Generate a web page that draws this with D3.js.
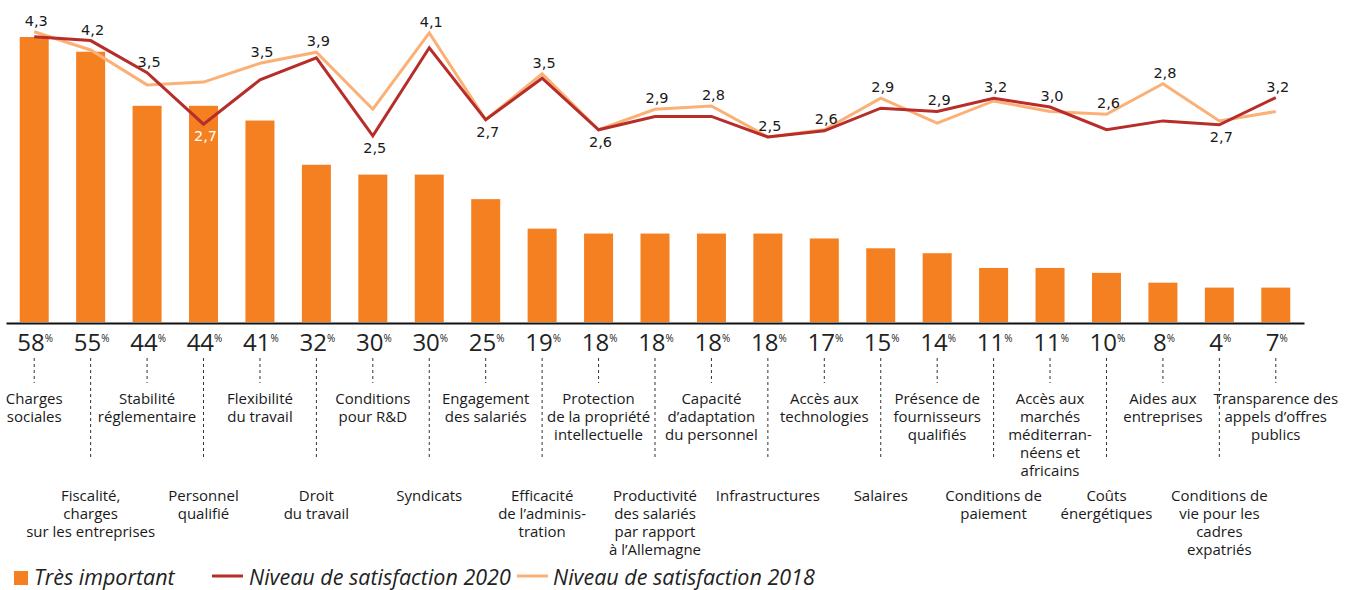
<!DOCTYPE html>
<html>
<head>
<meta charset="utf-8">
<script src="https://cdn.jsdelivr.net/npm/d3@7"></script>
<style>
body{margin:0;background:#fff;}
svg{display:block;}
</style>
</head>
<body>
<div id="chart-area"></div>
<script>
// ---------- DATA ----------
let categories=[
	"Charges|sociales","Fiscalité,|charges|sur les entreprises","Stabilité|réglementaire",
	"Personnel|qualifié","Flexibilité|du travail","Droit|du travail","Conditions|pour R&D",
	"Syndicats","Engagement|des salariés","Efficacité|de l’adminis-|tration",
	"Protection|de la propriété|intellectuelle","Productivité|des salariés|par rapport|à l’Allemagne",
	"Capacité|d’adaptation|du personnel","Infrastructures","Accès aux|technologies","Salaires",
	"Présence de|fournisseurs|qualifiés","Conditions de|paiement",
	"Accès aux|marchés|méditerran-|néens et|africains","Coûts|énergétiques","Aides aux|entreprises",
	"Conditions de|vie pour les|cadres|expatriés","Transparence des|appels d’offres|publics"
];
let important=[58,55,44,44,41,32,30,30,25,19,18,18,18,18,17,15,14,11,11,10,8,7,7];
let importantLabels=["58","55","44","44","41","32","30","30","25","19","18","18","18","18","17","15","14","11","11","10","8","4","7"];
let sat2020=[4.30,4.23,3.65,2.72,3.52,3.92,2.51,4.10,2.80,3.55,2.62,2.86,2.86,2.49,2.60,3.01,2.95,3.19,3.03,2.62,2.78,2.71,3.20];
let sat2018=[4.39,4.06,3.43,3.48,3.82,4.02,2.99,4.37,2.80,3.63,2.62,2.99,3.05,2.49,2.62,3.19,2.74,3.14,2.95,2.90,3.45,2.78,2.95];
let satLabels=["4,3","4,2","3,5","2,7","3,5","3,9","2,5","4,1","2,7","3,5","2,6","2,9","2,8","2,5","2,6","2,9","2,9","3,2","3,0","2,6","2,8","2,7","3,2"];
let labelBelow=[3,6,8,10,21];

let W=1357,H=590;
let barColor="#f58022",col2020="#b72d2a",col2018="#fbb176";
let catFont="'Open Sans', sans-serif";

let svg=d3.select("#chart-area").append('svg')
	.attr('width',W)
	.attr('height',H);

//---------SCALES--------------
let x=d3.scaleBand()
	.domain(d3.range(categories.length))
	.range([6,1304])
	.paddingInner(0.486)
	.paddingOuter(0.243);

let y=d3.scaleLinear()
	.domain([0,58])
	.range([322,37]);

let ySat=d3.scaleLinear()
	.domain([2.5,4.3])
	.range([136.4,36.7]);

let cx=i=>x(i)+x.bandwidth()/2;

//---------BARS--------------
svg.selectAll('rect.bar').data(important).enter()
	.append('rect')
	.attr('class','bar')
	.attr('x',(d,i)=>x(i))
	.attr('y',d=>y(d))
	.attr('width',x.bandwidth())
	.attr('height',d=>y(0)-y(d))
	.attr('fill',barColor);

//-------AXIS------------------
let xAxis=d3.axisBottom(x).tickSize(0).tickFormat('');
let axisG=svg.append('g')
	.attr('transform','translate(0,323)')
	.call(xAxis);
axisG.select('.domain').attr('stroke','#111').attr('stroke-width',2);

//-------LINES------------------
let line=d3.line()
	.x((d,i)=>cx(i))
	.y(d=>ySat(d));

svg.append('path')
	.datum(sat2018)
	.attr('d',line)
	.attr('fill','none')
	.attr('stroke',col2018)
	.attr('stroke-width',3);

svg.append('path')
	.datum(sat2020)
	.attr('d',line)
	.attr('fill','none')
	.attr('stroke',col2020)
	.attr('stroke-width',3);

// value labels
svg.selectAll('text.val').data(satLabels).enter()
	.append('text')
	.attr('class','val')
	.attr('x',(d,i)=>cx(i)+2)
	.attr('y',function(d,i){
		let a=ySat(sat2020[i]),b=ySat(sat2018[i]);
		return labelBelow.includes(i)?Math.max(a,b)+17:Math.min(a,b)-6;
	})
	.attr('text-anchor','middle')
	.attr('font-family','DejaVu Sans, sans-serif')
	.attr('font-size','14.5px')
	.attr('fill',(d,i)=>(i===3?'#fff':'#1a1a1a'))
	.text(d=>d);

//-------PERCENT LABELS------------------
let pct=svg.selectAll('text.pct').data(importantLabels).enter()
	.append('text')
	.attr('class','pct')
	.attr('x',(d,i)=>cx(i)+1)
	.attr('y',351)
	.attr('text-anchor','middle')
	.attr('font-family',catFont)
	.attr('font-weight',400)
	.attr('fill','#222');
pct.append('tspan').attr('font-size','24px').text(d=>d);
pct.append('tspan').attr('font-size','10px').attr('dy',-9).attr('fill','#222').text('%');

//-------CATEGORY LABELS------------------
categories.forEach(function(cat,i){
	let low=i%2===1;
	svg.append('line')
		.attr('x1',cx(i)).attr('x2',cx(i))
		.attr('y1',358).attr('y2',low?457:383)
		.attr('stroke','#333')
		.attr('stroke-width',1)
		.attr('stroke-dasharray','3,3');

	let t=svg.append('text')
		.attr('x',cx(i))
		.attr('y',low?501:404)
		.attr('text-anchor','middle')
		.attr('font-family',catFont)
		.attr('font-size','15px')
		.attr('font-weight',500)
		.attr('fill','#1a1a1a');
	cat.split('|').forEach(function(part,k){
		t.append('tspan')
			.attr('x',cx(i))
			.attr('dy',k===0?0:18)
			.text(part);
	});
});

//--------LEGEND--------------
let legend=svg.append('g').attr('transform','translate(0,585)');
let legendText=function(xPos,label){
	legend.append('text')
		.attr('x',xPos).attr('y',0)
		.attr('font-family',catFont).attr('font-style','italic')
		.attr('font-size','21.5px').attr('fill','#222')
		.text(label);
};
legend.append('rect')
	.attr('x',14).attr('y',-14)
	.attr('width',14).attr('height',14)
	.attr('fill',barColor);
legendText(34,'Très important');
legend.append('line')
	.attr('x1',212).attr('x2',243).attr('y1',-9).attr('y2',-9)
	.attr('stroke',col2020).attr('stroke-width',3);
legendText(249,'Niveau de satisfaction 2020');
legend.append('line')
	.attr('x1',517).attr('x2',548).attr('y1',-9).attr('y2',-9)
	.attr('stroke',col2018).attr('stroke-width',3);
legendText(553,'Niveau de satisfaction 2018');
</script>
</body>
</html>
